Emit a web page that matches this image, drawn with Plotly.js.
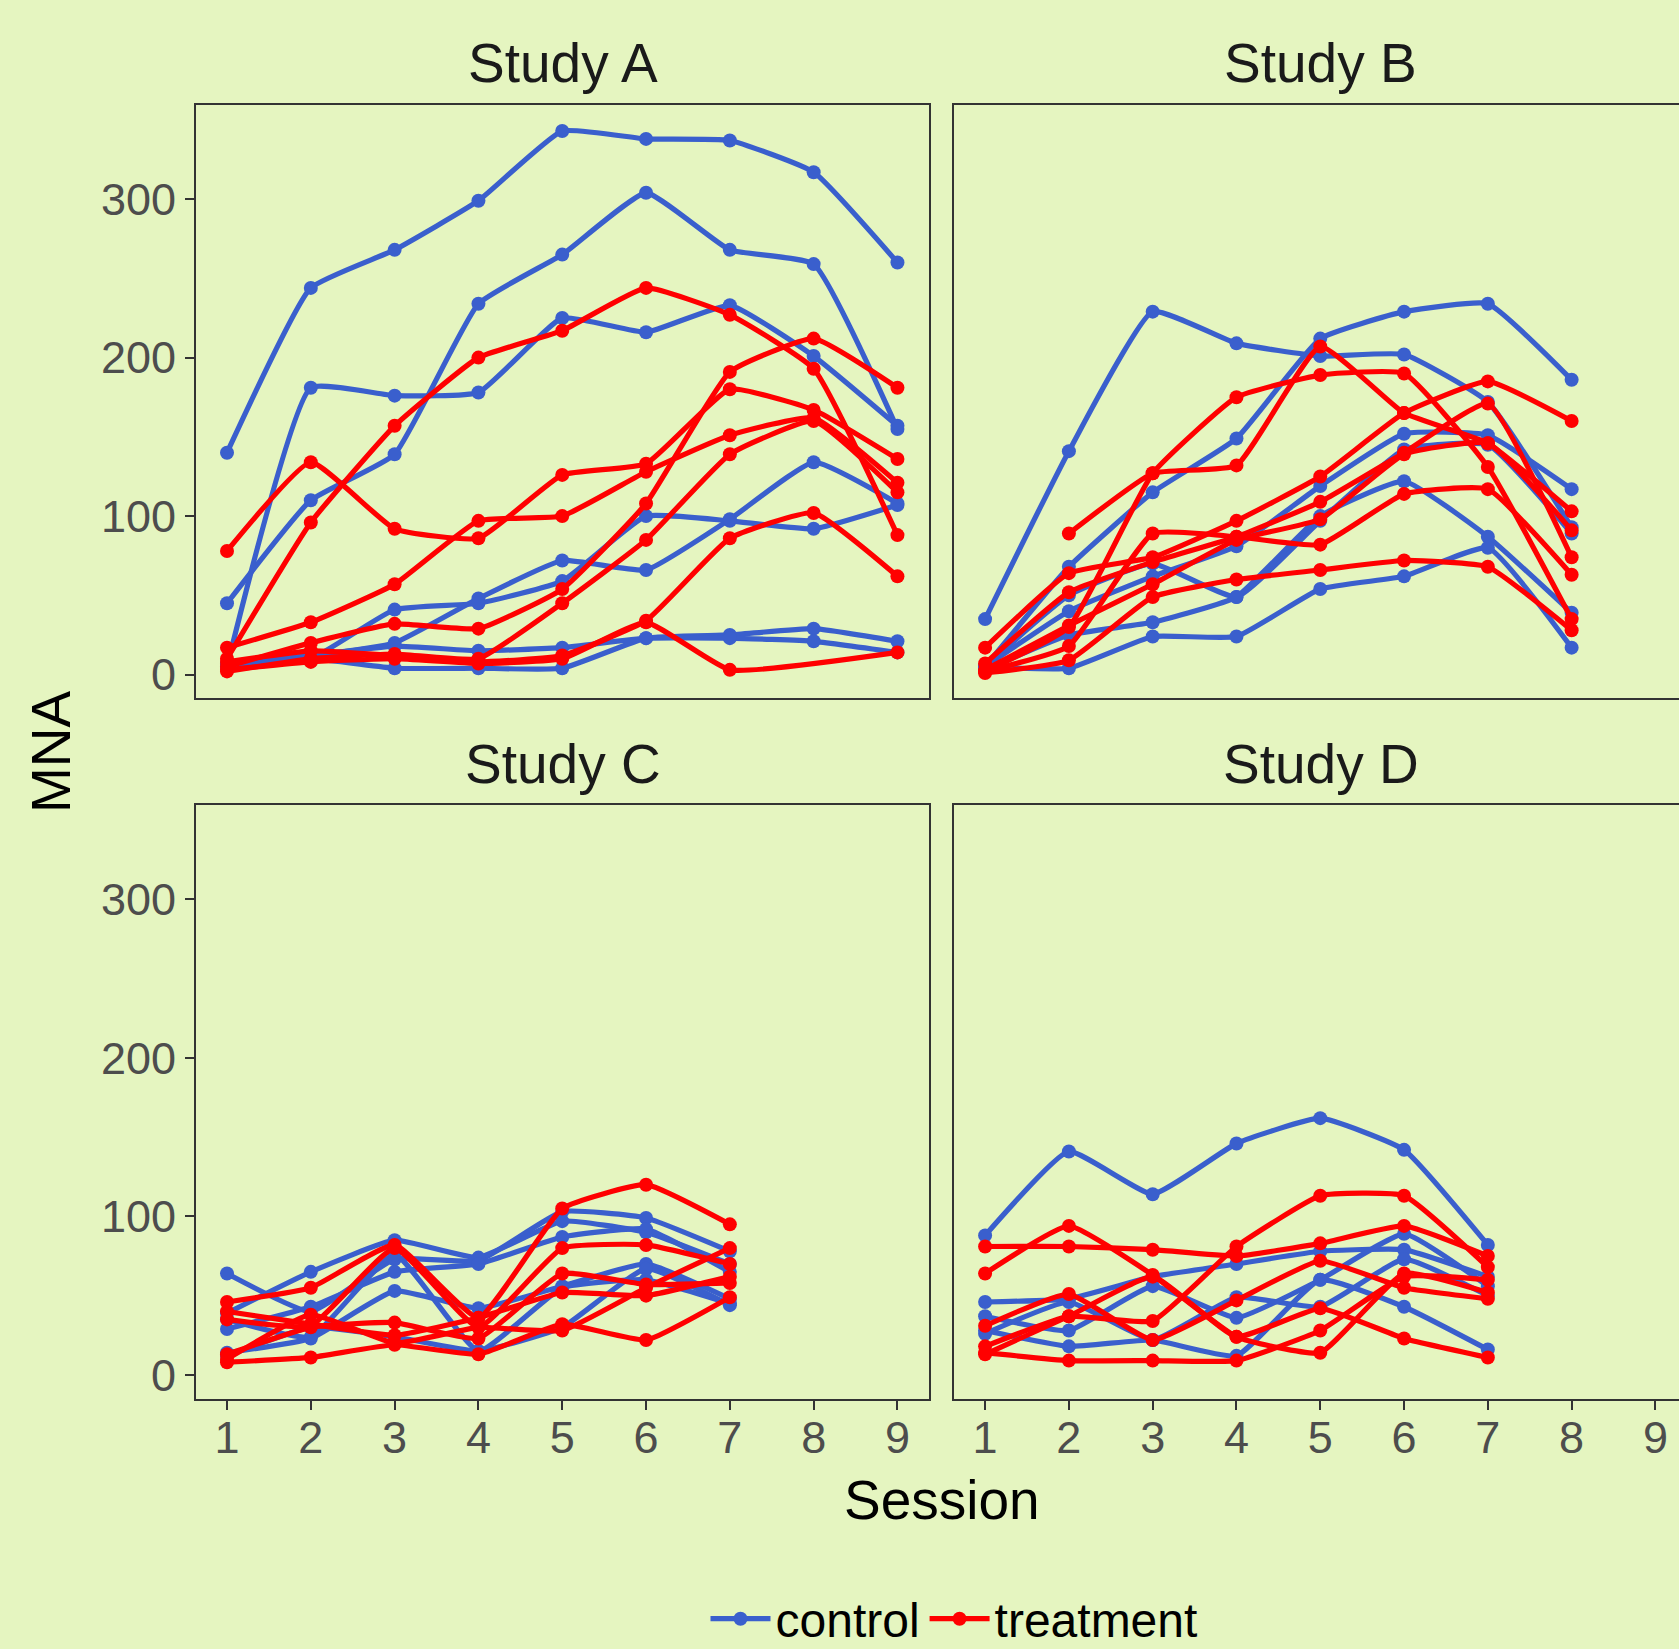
<!DOCTYPE html>
<html>
<head>
<meta charset="utf-8">
<script src="https://cdn.plot.ly/plotly-3.0.1.min.js"></script>
<style>
html,body{margin:0;padding:0;overflow:hidden;background:#e5f5c0;width:1679px;height:1649px;}
#chart{width:1679px;height:1649px;}
</style>
</head>
<body>
<div id="chart"></div>
<script>
// ---- data ----
const sessions = [1, 2, 3, 4, 5, 6, 7, 8, 9];
const studies = ["Study A", "Study B", "Study C", "Study D"];
const groups = ["control", "treatment"];

const studyA_control = [
  [140, 244, 268, 299, 343, 338, 337, 317, 260],
  [45, 110, 139, 234, 265, 304, 268, 259, 155],
  [5, 181, 176, 178, 225, 216, 233, 201, 157],
  [7, 12, 20, 48, 72, 66, 98, 134, 108],
  [6, 10, 41, 45, 59, 100, 97, 92, 107],
  [5, 10, 4, 4, 4, 23, 25, 29, 21],
  [6, 12, 18, 15, 17, 23, 23, 21, 14]
];
const studyA_treatment = [
  [10, 96, 157, 200, 217, 244, 227, 193, 88],
  [78, 134, 92, 86, 126, 133, 180, 167, 136],
  [17, 33, 57, 97, 100, 128, 151, 162, 121],
  [5, 20, 32, 29, 54, 108, 191, 212, 181],
  [2, 10, 13, 10, 45, 85, 139, 160, 115],
  [8, 15, 12, 8, 12, 34, 86, 102, 62],
  [3, 8, 10, 7, 10, 33, 3, null, 14]
];
const studyB_control = [
  [35, 141, 229, 209, 201, 202, 172, 93],
  [5, 68, 115, 149, 212, 229, 234, 186],
  [5, 40, 62, 81, 119, 152, 151, 117],
  [5, 50, 70, 49, 97, 142, 145, 89],
  [3, 25, 33, 49, 100, 122, 87, 39],
  [5, 4, 24, 24, 54, 62, 80, 17]
];
const studyB_treatment = [
  [null, 89, 127, 132, 207, 165, 146, 103],
  [2, 30, 127, 175, 189, 190, 131, 35],
  [17, 64, 74, 97, 125, 165, 185, 160],
  [7, 52, 71, 87, 109, 140, 171, 74],
  [3, 31, 57, 85, 98, 139, 146, 91],
  [2, 18, 89, 87, 82, 114, 117, 63],
  [1, 9, 49, 60, 66, 72, 68, 28]
];
const studyC_control = [
  [64, 40, 73, 72, 103, 99, 78],
  [39, 65, 85, 74, 97, 90, 70],
  [29, 43, 65, 70, 87, 92, 65],
  [14, 23, 53, 42, 56, 70, 48],
  [35, 24, 76, 15, 55, 60, 45],
  [12, 30, 24, 15, 30, 67, 44]
];
const studyC_treatment = [
  [46, 55, 82, 36, 105, 120, 95],
  [35, 31, 80, 30, 80, 82, 70],
  [13, 30, 33, 23, 64, 57, 58],
  [8, 11, 19, 13, 32, 22, 49],
  [40, 32, 25, 36, 52, 50, 62],
  [10, 38, 20, 30, 28, 55, 80]
];
const studyD_control = [
  [88, 141, 114, 146, 162, 142, 82],
  [46, 48, 62, 70, 78, 79, 62],
  [37, 28, 56, 36, 60, 89, 56],
  [26, 46, 22, 49, 43, 73, 50],
  [28, 18, 22, 12, 60, 43, 16]
];
const studyD_treatment = [
  [64, 94, 63, 24, 14, 64, 52],
  [81, 81, 79, 75, 83, 94, 75],
  [18, 37, 34, 81, 113, 113, 68],
  [31, 51, 22, 47, 72, 55, 48],
  [14, 9, 9, 9, 28, 62, 60],
  [13, 37, 62, 24, 42, 23, 11]
];
const yTicks = [0, 100, 200, 300];

// ---- style ----
const BG = "#e5f5c0";
const colors = { control: "#3a5fcd", treatment: "#ff0000" };
const W = 1679, H = 1649;
const FONT = "Liberation Sans, Arial, sans-serif";
const PX_PER_SESSION = 83.79;

const panels = [
  { name: studies[0], data: { control: studyA_control, treatment: studyA_treatment }, xa: "x", ya: "y" },
  { name: studies[1], data: { control: studyB_control, treatment: studyB_treatment }, xa: "x2", ya: "y2" },
  { name: studies[2], data: { control: studyC_control, treatment: studyC_treatment }, xa: "x3", ya: "y3" },
  { name: studies[3], data: { control: studyD_control, treatment: studyD_treatment }, xa: "x4", ya: "y4" }
];

const traces = [];
const legendShown = {};
panels.forEach(p => {
  groups.forEach(g => {
    p.data[g].forEach(series => {
      const show = !legendShown[g];
      legendShown[g] = true;
      traces.push({
        type: "scatter",
        mode: "lines+markers",
        x: sessions.slice(0, series.length),
        y: series,
        xaxis: p.xa,
        yaxis: p.ya,
        name: g,
        legendgroup: g,
        showlegend: show,
        connectgaps: true,
        line: { color: colors[g], width: 5.2, shape: "spline", smoothing: 0.4 },
        marker: { color: colors[g], size: 14 },
        hoverinfo: "skip",
        cliponaxis: true
      });
    });
  });
});

// panel geometry (px)
const leftPanel = [196, 929.3];
const rightPanelStart = 954.1;
const rightPanelEnd = 1687.4; // extends past the picture's right edge
const xLeft = [leftPanel[0] / W, leftPanel[1] / W];
const xRight = [rightPanelStart / W, 1];
const xRightRange = [0.63, 0.63 + (W - rightPanelStart) / PX_PER_SESSION];
const yTop = [1 - 698.2 / H, 1 - 105 / H];
const yBot = [1 - 1398.5 / H, 1 - 805.3 / H];

function xAxis(domain, anchor, labels, range) {
  return {
    domain: domain, anchor: anchor, range: range,
    tickvals: sessions, ticktext: sessions.map(String),
    showticklabels: labels, ticks: labels ? "outside" : "",
    ticklen: 9, tickwidth: 2, tickcolor: "#333333",
    ticklabelstandoff: -11,
    tickfont: { size: 45, color: "#4d4d4d", family: FONT },
    showline: true, mirror: true, linecolor: "#333333", linewidth: 2,
    showgrid: false, zeroline: false, fixedrange: true
  };
}
function yAxis(domain, anchor, labels, mirror) {
  return {
    domain: domain, anchor: anchor, range: [-14.9, 359.4],
    tickvals: yTicks, ticktext: yTicks.map(String),
    showticklabels: labels, ticks: labels ? "outside" : "",
    ticklen: 9, tickwidth: 2, tickcolor: "#333333",
    tickfont: { size: 45, color: "#4d4d4d", family: FONT },
    showline: true, mirror: mirror, linecolor: "#333333", linewidth: 2,
    showgrid: false, zeroline: false, fixedrange: true
  };
}

const stripFont = { size: 55, color: "#1a1a1a", family: FONT };
const leftCenter = (leftPanel[0] + leftPanel[1]) / 2 / W;
const rightCenter = (rightPanelStart + rightPanelEnd) / 2 / W;
const annotations = [
  { text: studies[0], x: leftCenter, y: 1 - 63 / H },
  { text: studies[1], x: rightCenter, y: 1 - 63 / H },
  { text: studies[2], x: leftCenter, y: 1 - 764 / H },
  { text: studies[3], x: rightCenter, y: 1 - 764 / H }
].map(a => Object.assign(a, { xref: "paper", yref: "paper", showarrow: false, xanchor: "center", yanchor: "middle", font: stripFont }));

annotations.push({
  text: "Session", xref: "paper", yref: "paper", x: (leftPanel[0] + rightPanelEnd) / 2 / W, y: 1 - 1500 / H,
  showarrow: false, xanchor: "center", yanchor: "middle",
  font: { size: 55, color: "#000000", family: FONT }
});
annotations.push({
  text: "MNA", xref: "paper", yref: "paper", x: 51 / W, y: 1 - 752 / H,
  showarrow: false, xanchor: "center", yanchor: "middle", textangle: -90,
  font: { size: 55, color: "#000000", family: FONT }
});

const layout = {
  width: W, height: H,
  margin: { l: 0, r: 0, t: 0, b: 0, autoexpand: false },
  paper_bgcolor: BG, plot_bgcolor: BG,
  font: { family: FONT },
  showlegend: true,
  legend: {
    orientation: "h", x: 954 / W, xanchor: "center", y: 1 - 1619 / H, yanchor: "middle",
    font: { size: 48, color: "#000000", family: FONT },
    bgcolor: "rgba(0,0,0,0)", itemwidth: 60, tracegroupgap: 0
  },
  xaxis: xAxis(xLeft, "y", false, [0.63, 9.38]),
  yaxis: yAxis(yTop, "x", true, true),
  xaxis2: xAxis(xRight, "y2", false, xRightRange),
  yaxis2: yAxis(yTop, "x2", false, false),
  xaxis3: xAxis(xLeft, "y3", true, [0.63, 9.38]),
  yaxis3: yAxis(yBot, "x3", true, true),
  xaxis4: xAxis(xRight, "y4", true, xRightRange),
  yaxis4: yAxis(yBot, "x4", false, false),
  annotations: annotations
};

Plotly.newPlot("chart", traces, layout, { displayModeBar: false, staticPlot: true });
</script>
</body>
</html>
